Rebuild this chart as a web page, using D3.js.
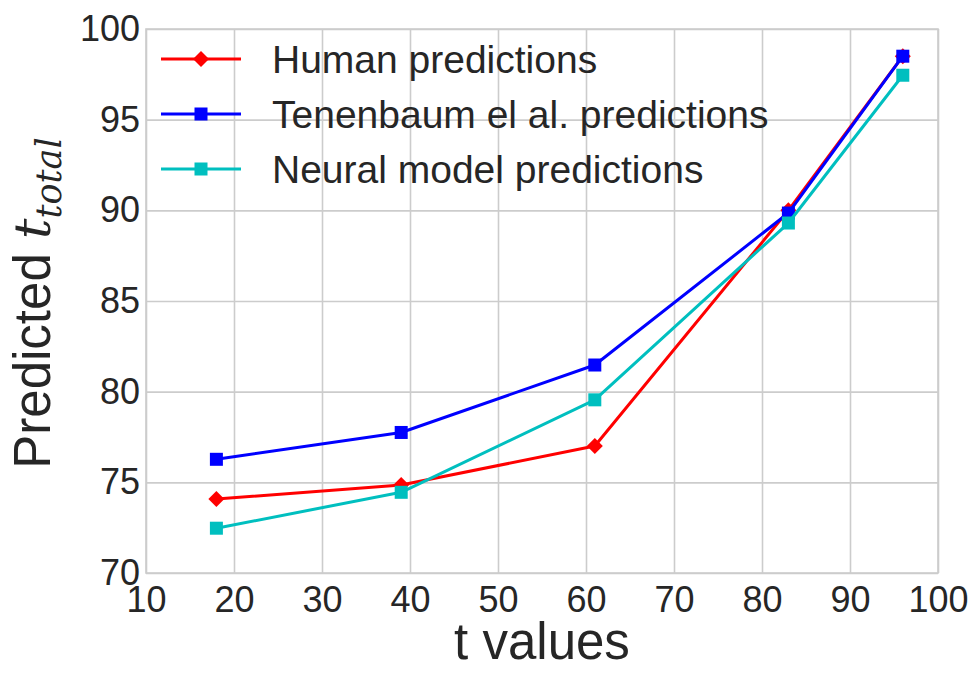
<!DOCTYPE html>
<html>
<head>
<meta charset="utf-8">
<script src="https://cdn.jsdelivr.net/npm/d3@7"></script>
<style>
  html, body { margin: 0; padding: 0; background: #ffffff; }
  svg { display: block; }
  text { font-family: "Liberation Sans", Arial, sans-serif; fill: #262626; }
</style>
</head>
<body>
<svg id="chart" width="976" height="675"></svg>
<script>
// t values shown to participants
const tValues = [18, 39, 61, 83, 96];

// Predicted t_total for each series
const humanPred      = [74.08, 74.85, 77.0, 90.0, 98.5];
const tenenbaumPred  = [76.27, 77.75, 81.47, 89.85, 98.5];
const neuralPred     = [72.47, 74.45, 79.55, 89.3, 97.45];

const seriesNames = ["Human predictions", "Tenenbaum el al. predictions", "Neural model predictions"];
const seriesColors = ["#ff0000", "#0000ff", "#00bfbf"];
const seriesMarkers = ["diamond", "square", "square"];
const seriesValues = [humanPred, tenenbaumPred, neuralPred];

const xTicks = [10, 20, 30, 40, 50, 60, 70, 80, 90, 100];
const yTicks = [70, 75, 80, 85, 90, 95, 100];

const margin = { left: 146, right: 976 - 938, top: 29, bottom: 675 - 573 };
const W = 976, H = 675;

const svg = d3.select("#chart");

const x = d3.scaleLinear().domain([10, 100]).range([margin.left, W - margin.right]);
const y = d3.scaleLinear().domain([70, 100]).range([H - margin.bottom, margin.top]);

const gridColor = "#cccccc";

// gridlines
const gx = svg.append("g")
  .attr("transform", `translate(0,${H - margin.bottom})`)
  .call(d3.axisBottom(x).tickValues(xTicks).tickSize(-(H - margin.bottom - margin.top)).tickPadding(13).tickFormat(d3.format("d")));
const gy = svg.append("g")
  .attr("transform", `translate(${margin.left},0)`)
  .call(d3.axisLeft(y).tickValues(yTicks).tickSize(-(W - margin.right - margin.left)).tickPadding(6).tickFormat(d3.format("d")));

[gx, gy].forEach(g => {
  g.select(".domain").remove();
  g.selectAll(".tick line").attr("stroke", gridColor).attr("stroke-width", 1.6);
  g.selectAll(".tick text").style("font-size", "36px").style("font-family", "Liberation Sans, Arial, sans-serif").attr("fill", "#262626");
});
gx.selectAll(".tick text").attr("dy", "0.71em");

// frame
svg.append("rect")
  .attr("x", margin.left).attr("y", margin.top)
  .attr("width", W - margin.right - margin.left)
  .attr("height", H - margin.bottom - margin.top)
  .attr("fill", "none").attr("stroke", gridColor).attr("stroke-width", 1.6);

const line = d3.line().x((d, i) => x(tValues[i])).y(d => y(d));

function drawMarker(g, type, cx, cy, color) {
  if (type === "square") {
    g.append("rect").attr("x", cx - 6.5).attr("y", cy - 6.5).attr("width", 13).attr("height", 13).attr("fill", color);
  } else {
    const r = 8;
    g.append("path").attr("d", `M${cx},${cy - r}L${cx + r},${cy}L${cx},${cy + r}L${cx - r},${cy}Z`).attr("fill", color);
  }
}

seriesValues.forEach((vals, s) => {
  const g = svg.append("g");
  g.append("path").datum(vals)
    .attr("d", line).attr("fill", "none")
    .attr("stroke", seriesColors[s]).attr("stroke-width", 3)
    .attr("stroke-linejoin", "round");
  vals.forEach((v, i) => drawMarker(g, seriesMarkers[s], x(tValues[i]), y(v), seriesColors[s]));
});

// legend
const legend = svg.append("g");
seriesNames.forEach((name, s) => {
  const ly = 59 + s * 55;
  legend.append("line").attr("x1", 161).attr("x2", 241).attr("y1", ly).attr("y2", ly)
    .attr("stroke", seriesColors[s]).attr("stroke-width", 3);
  drawMarker(legend, seriesMarkers[s], 201, ly, seriesColors[s]);
  legend.append("text").attr("x", 272).attr("y", ly).attr("dy", "0.36em")
    .style("font-size", "39px").text(name);
});

// axis labels
svg.append("text")
  .attr("x", (margin.left + W - margin.right) / 2).attr("y", 659)
  .attr("text-anchor", "middle").style("font-size", "51px").text("t values");

const ylab = svg.append("text")
  .attr("transform", `translate(50,${(margin.top + H - margin.bottom) / 2 + 2}) rotate(-90)`)
  .attr("text-anchor", "middle").style("font-size", "51px");
ylab.append("tspan").text("Predicted ");
ylab.append("tspan").style("font-family", "DejaVu Serif, Liberation Serif, serif").style("font-style", "italic").text("t");
ylab.append("tspan").attr("dy", 11).style("font-family", "DejaVu Serif, Liberation Serif, serif").style("font-style", "italic").style("font-size", "35px").text("total");
</script>
</body>
</html>
